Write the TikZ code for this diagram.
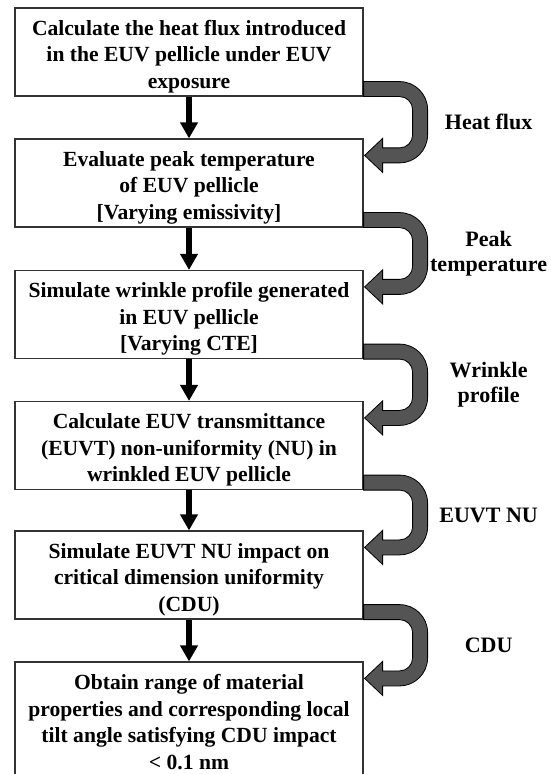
\documentclass[tikz,border=0pt]{standalone}
\usepackage{fontspec}
\setmainfont{Liberation Serif}
\usetikzlibrary{arrows.meta,calc}

\tikzset{
    stepbox/.style={draw=black!80, line width=0.6pt, minimum width=174pt, minimum height=44pt, inner sep=0pt},
    steptext/.style={align=center, inner sep=0pt, font=\bfseries\fontsize{10.8}{13.25}\selectfont},
    fatarrow/.style={fill=black!67, draw=black, line width=0.4pt},
    downarrow/.style={line width=2.7pt, -{Triangle[length=8pt,width=8.5pt]}},
    sidelabel/.style={align=center, font=\bfseries\fontsize{11}{12.5}\selectfont}
}

\begin{document}
\begin{tikzpicture}[x=0.5pt, y=-0.5pt]
    \useasboundingbox (0,0) rectangle (550,774);
    \node[stepbox] (flux) at (189,52) {};
    \node[stepbox] (temp) at (189,183) {};
    \node[stepbox] (wrinkle) at (189,314.5) {};
    \node[stepbox] (euvt) at (189,445.5) {};
    \node[stepbox] (cdu) at (189,575) {};
    \node[stepbox, minimum height=60pt] (range) at (189,722) {};

    % box texts, set a little below the box centres
    \foreach \b/\dy/\txt in {flux/4.5/{Calculate the heat flux introduced\\in the EUV pellicle under EUV\\exposure},
            temp/4.5/{Evaluate peak temperature\\of EUV pellicle\\{[Varying emissivity]}},
            wrinkle/4.5/{Simulate wrinkle profile generated\\in EUV pellicle\\{[Varying CTE]}},
            euvt/4.5/{Calculate EUV transmittance\\(EUVT) non-uniformity (NU) in\\wrinkled EUV pellicle},
            cdu/4.5/{Simulate EUVT NU impact on\\critical dimension uniformity\\(CDU)},
            range/0/{Obtain range of material\\properties and corresponding local\\tilt angle satisfying CDU impact\\< 0.1 nm}}
        \node[steptext] (\b-text) at ($(\b)+(0,\dy)$) {\txt};

    \foreach \a/\b in {flux/temp, temp/wrinkle, wrinkle/euvt, euvt/cdu, cdu/range}
        \draw[downarrow] (\a) -- (\b);

    % feedback of each result into the next step
    \foreach \a/\b/\lbl in {flux/temp/{Heat flux}, temp/wrinkle/{Peak\\temperature}, wrinkle/euvt/{Wrinkle\\profile}, euvt/cdu/{EUVT NU}, cdu/range/{CDU}}{
        \coordinate (t) at (\a.south east);
        \coordinate (h) at ($(\b.north east)+(0,17)$);
        \coordinate (m) at ($(t)+(0,-7.5)$);
        \draw[fatarrow] ($(t)+(0,-15)$) [rounded corners=14pt] -- ($(t)+(64,-15)$) -- ($(h)+(64,7.5)$)
            [sharp corners] -- ($(h)+(19,7.5)$) -- ($(h)+(19,17)$) -- ($(h)+(1,0)$) -- ($(h)+(19,-17)$)
            -- ($(h)+(19,-7.5)$) [rounded corners=6.5pt] -- ($(h)+(49,-7.5)$) -- ($(t)+(49,0)$)
            [sharp corners] -- (t) -- cycle;
        \node[sidelabel] at ($(m)!0.5!(h)+(125,0)$) {\lbl};
    }
\end{tikzpicture}
\end{document}
